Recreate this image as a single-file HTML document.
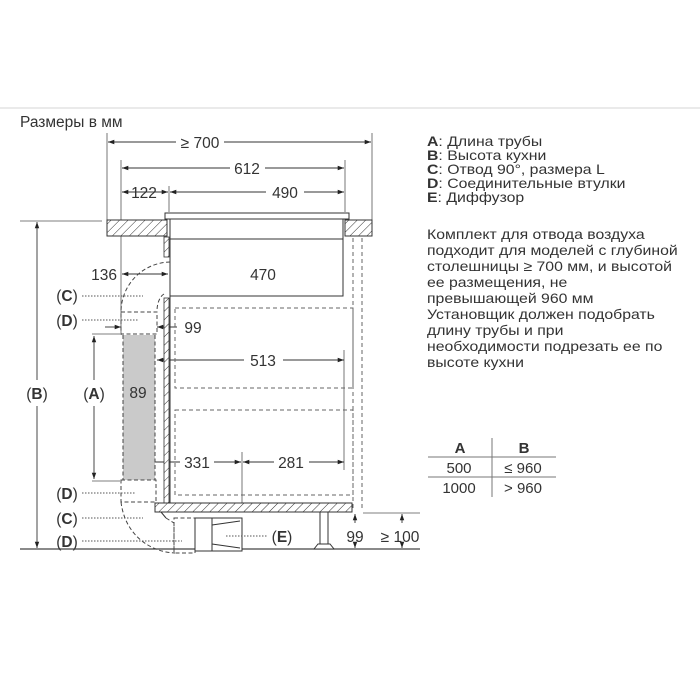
<!DOCTYPE html>
<html><head><meta charset="utf-8"><style>
html,body{margin:0;padding:0;background:#fff;}
svg{display:block;font-family:"Liberation Sans",Arial,sans-serif;}
</style></head><body>
<svg width="700" height="700" viewBox="0 0 700 700" xmlns="http://www.w3.org/2000/svg">
<defs>
<pattern id="h" width="6" height="6" patternUnits="userSpaceOnUse" patternTransform="rotate(45)">
<rect width="6" height="6" fill="#fff"/><line x1="0" y1="0" x2="0" y2="6" stroke="#333" stroke-width="1"/>
</pattern>
<marker id="a" viewBox="0 0 10 10" refX="10" refY="5" markerWidth="7" markerHeight="7" orient="auto-start-reverse"><path d="M0,1.5 L10,5 L0,8.5 z" fill="#222"/></marker>
</defs>
<line x1="0" y1="108" x2="700" y2="108" stroke="#e4e4e4" stroke-width="1.5"/>
<text x="20" y="127" font-size="15.5" fill="#333">Размеры в мм</text>

<g stroke="#555" stroke-width="0.8" fill="none">
<line x1="107" y1="133" x2="107" y2="220"/>
<line x1="372" y1="133" x2="372" y2="220"/>
<line x1="121" y1="160" x2="121" y2="335"/>
<line x1="345" y1="160" x2="345" y2="212"/>
<line x1="169" y1="186" x2="169" y2="212"/>
<line x1="20" y1="221" x2="102" y2="221"/>
<line x1="20" y1="549" x2="420" y2="549" stroke="#444" stroke-width="1.2"/>
<line x1="363" y1="513" x2="420" y2="513"/>
<line x1="242" y1="452" x2="242" y2="505"/>
<line x1="344" y1="350" x2="344" y2="470"/>
<line x1="92" y1="334" x2="120" y2="334"/>
<line x1="92" y1="481" x2="120" y2="481"/>
</g>

<g stroke="#333" stroke-width="0.9" fill="none" marker-start="url(#a)" marker-end="url(#a)">
<line x1="108" y1="142" x2="176" y2="142" marker-end="none"/>
<line x1="224" y1="142" x2="371" y2="142" marker-start="none"/>
<line x1="122" y1="168" x2="230" y2="168" marker-end="none"/>
<line x1="265" y1="168" x2="344" y2="168" marker-start="none"/>
<line x1="122" y1="192" x2="168" y2="192"/>
<line x1="170" y1="192" x2="266" y2="192" marker-end="none"/>
<line x1="304" y1="192" x2="344" y2="192" marker-start="none"/>
<line x1="37" y1="222" x2="37" y2="380" marker-end="none"/>
<line x1="37" y1="406" x2="37" y2="548" marker-start="none"/>
<line x1="94" y1="336" x2="94" y2="380" marker-end="none"/>
<line x1="94" y1="406" x2="94" y2="479" marker-start="none"/>
<line x1="122" y1="274" x2="168" y2="274"/>
<line x1="172" y1="274" x2="242" y2="274" marker-end="none"/>
<line x1="284" y1="274" x2="340" y2="274" marker-start="none"/>
<line x1="157" y1="360" x2="244" y2="360" marker-end="none"/>
<line x1="283" y1="360" x2="344" y2="360" marker-start="none"/>
<line x1="123" y1="403" x2="155" y2="403"/>
<line x1="123" y1="462" x2="180" y2="462" marker-end="none"/>
<line x1="214" y1="462" x2="241" y2="462" marker-start="none"/>
<line x1="243" y1="462" x2="274" y2="462" marker-end="none"/>
<line x1="309" y1="462" x2="344" y2="462" marker-start="none"/>
<line x1="355" y1="514" x2="355" y2="523" marker-end="none"/>
<line x1="355" y1="546" x2="355" y2="548" marker-start="none"/>
<line x1="402" y1="514" x2="402" y2="523" marker-end="none"/>
<line x1="402" y1="546" x2="402" y2="548" marker-start="none"/>
<line x1="105" y1="327" x2="121" y2="327" marker-start="none"/>
<line x1="157" y1="327" x2="177" y2="327" marker-end="none"/>
</g>

<rect x="107" y="220" width="60" height="16" fill="url(#h)" stroke="#333"/>
<rect x="345" y="220" width="27" height="16" fill="url(#h)" stroke="#333"/>
<rect x="165" y="213" width="184" height="6" fill="#fff" stroke="#333"/>
<rect x="170" y="219" width="173" height="77" fill="#fff" stroke="#333"/>
<line x1="170" y1="239" x2="343" y2="239" stroke="#333"/>
<rect x="164" y="237" width="5" height="20" fill="url(#h)" stroke="#333" stroke-width="0.8"/>
<rect x="164" y="298" width="5" height="205" fill="url(#h)" stroke="#333" stroke-width="0.8"/>
<line x1="170" y1="296" x2="170" y2="503" stroke="#333"/>
<rect x="155" y="503" width="197" height="9" fill="url(#h)" stroke="#333"/>
<line x1="161" y1="512" x2="166" y2="518" stroke="#333"/>

<g stroke="#666" stroke-width="1" fill="none" stroke-dasharray="4,3">
<line x1="353" y1="238" x2="353" y2="510"/>
<line x1="362" y1="238" x2="362" y2="510"/>
<rect x="175" y="308" width="178" height="80"/>
<rect x="175" y="410" width="178" height="85"/>
</g>
<rect x="123" y="335" width="32" height="145" fill="#cacaca"/>
<g stroke="#444" stroke-width="1" fill="none" stroke-dasharray="4,2.5">
<path d="M170,262 A50,50 0 0 0 121,312"/>
<path d="M164,294 A10,18 0 0 0 157,312"/>
<rect x="121" y="312" width="36" height="22"/>
<line x1="123" y1="335" x2="123" y2="480"/>
<line x1="155" y1="335" x2="155" y2="480"/>
<rect x="121" y="480" width="35" height="22"/>
<path d="M121,502 C125,535 150,552 175,553"/>
<path d="M166,518 L174,523 L174,553"/>
<rect x="174" y="518" width="21" height="35"/>
</g>
<g stroke="#333" stroke-width="1" fill="#fff">
<rect x="195" y="518" width="47" height="33"/>
<line x1="212" y1="518" x2="212" y2="551"/>
<line x1="212" y1="525" x2="240" y2="521"/>
<line x1="212" y1="544" x2="240" y2="548"/>
</g>
<g stroke="#333" stroke-width="1" fill="#fff">
<rect x="320" y="512" width="8" height="32"/>
<path d="M314,549 L318,544 L330,544 L334,549 z"/>
</g>

<g stroke="#555" stroke-width="1" stroke-dasharray="1.5,1.5">
<line x1="82" y1="296" x2="143" y2="296"/>
<line x1="82" y1="320" x2="139" y2="320"/>
<line x1="82" y1="493" x2="135" y2="493"/>
<line x1="82" y1="518" x2="143" y2="518"/>
<line x1="82" y1="541" x2="182" y2="541"/>
<line x1="226" y1="536" x2="268" y2="536"/>
</g>

<g font-size="15.5" fill="#333" text-anchor="middle">
<text x="200" y="148">≥ 700</text>
<text x="247" y="174">612</text>
<text x="144" y="198">122</text>
<text x="285" y="198">490</text>
<text x="117" y="280" text-anchor="end">136</text>
<text x="263" y="280">470</text>
<text x="193" y="333">99</text>
<text x="263" y="366">513</text>
<text x="138" y="398">89</text>
<text x="197" y="468">331</text>
<text x="291" y="468">281</text>
<text x="355" y="542">99</text>
<text x="400" y="542">≥ 100</text>
<text x="37" y="399">(<tspan font-weight="bold">B</tspan>)</text>
<text x="94" y="399">(<tspan font-weight="bold">A</tspan>)</text>
<text x="67" y="301">(<tspan font-weight="bold">C</tspan>)</text>
<text x="67" y="326">(<tspan font-weight="bold">D</tspan>)</text>
<text x="67" y="499">(<tspan font-weight="bold">D</tspan>)</text>
<text x="67" y="524">(<tspan font-weight="bold">C</tspan>)</text>
<text x="67" y="547">(<tspan font-weight="bold">D</tspan>)</text>
<text x="282" y="542">(<tspan font-weight="bold">E</tspan>)</text>
</g>

<g font-size="14" fill="#333" transform="translate(427,0) scale(1.13,1) translate(-427,0)">
<text x="427" y="146"><tspan font-weight="bold">A</tspan>: Длина трубы</text>
<text x="427" y="160"><tspan font-weight="bold">B</tspan>: Высота кухни</text>
<text x="427" y="174"><tspan font-weight="bold">C</tspan>: Отвод 90°, размера L</text>
<text x="427" y="188"><tspan font-weight="bold">D</tspan>: Соединительные втулки</text>
<text x="427" y="202"><tspan font-weight="bold">E</tspan>: Диффузор</text>
<text x="427" y="239">Комплект для отвода воздуха</text>
<text x="427" y="255">подходит для моделей с глубиной</text>
<text x="427" y="271">столешницы ≥ 700 мм, и высотой</text>
<text x="427" y="287">ее размещения, не</text>
<text x="427" y="303">превышающей 960 мм</text>
<text x="427" y="319">Установщик должен подобрать</text>
<text x="427" y="335">длину трубы и при</text>
<text x="427" y="351">необходимости подрезать ее по</text>
<text x="427" y="367">высоте кухни</text>
</g>
<g font-size="15" fill="#333" text-anchor="middle">
<text x="460" y="453" font-weight="bold">A</text>
<text x="524" y="453" font-weight="bold">B</text>
<text x="459" y="473">500</text>
<text x="523" y="473">≤ 960</text>
<text x="459" y="493">1000</text>
<text x="523" y="493">&gt; 960</text>
</g>
<g stroke="#777" stroke-width="1">
<line x1="428" y1="457" x2="556" y2="457"/>
<line x1="428" y1="477" x2="556" y2="477"/>
<line x1="492" y1="438" x2="492" y2="497"/>
</g>
</svg>
</body></html>
